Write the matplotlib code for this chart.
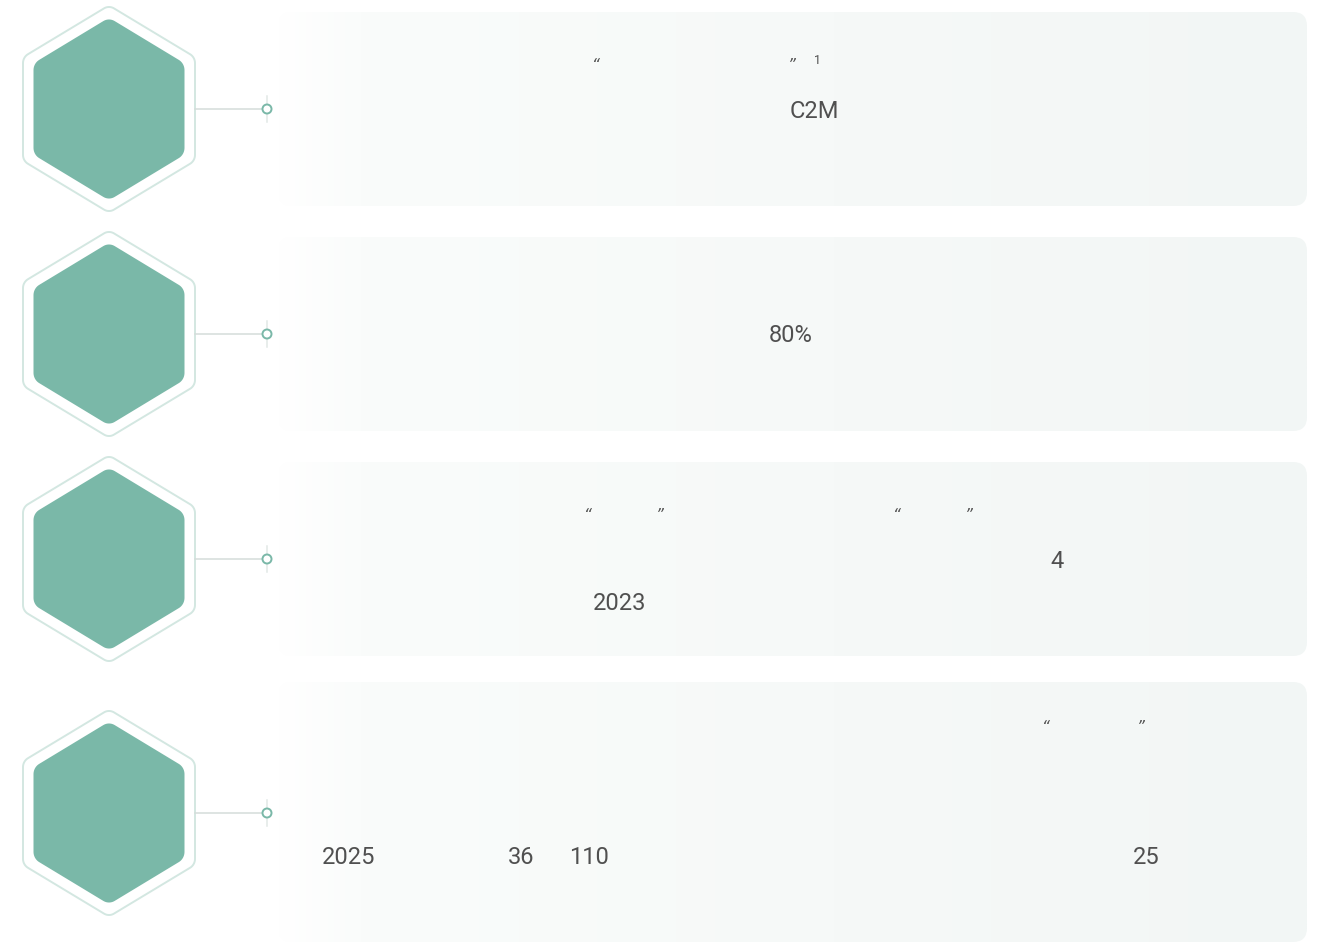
import numpy as np
import matplotlib
matplotlib.use("Agg")
import matplotlib.pyplot as plt
from matplotlib.patches import Polygon, FancyBboxPatch, Circle

plt.rcParams['font.family'] = ['Noto Sans CJK SC', 'DejaVu Sans']

W, H = 1329, 943

# row layout (pixel centres of each hexagon / card)
ROW_CENTERS = [109, 334, 559, 813]
CARD_TOPS = [12, 237, 462, 682]
CARD_BOTTOMS = [206, 431, 656, 942]

# visible text fragments per row: (text, x, y, size)
ROW_TEXTS = [
    [("\u201c", 592, 66, 11), ("\u201d", 788, 66, 11), ("1", 814, 60, 9), ("C2M", 790, 111, 17)],
    [("80%", 769, 336, 17)],
    [("\u201c", 584, 516, 11), ("\u201d", 656, 516, 11), ("\u201c", 893, 516, 11),
     ("\u201d", 965, 516, 11), ("4", 1050, 561, 17), ("2023", 593, 603, 17)],
    [("\u201c", 1042, 727, 11), ("\u201d", 1137, 727, 11), ("2025", 322, 858, 17),
     ("36", 508, 858, 17), ("110", 569, 858, 17), ("25", 1133, 858, 17)],
]

TEAL = "#7ab8a8"
OUTLINE = "#d3e7e1"
TEXT = "#505050"


def rounded_hex(cx, cy, hw, hh, r=0.13, n=12):
    """Pointy-top hexagon with rounded corners, scaled to half-width hw / half-height hh."""
    pts = []
    d = 1 - r / np.sin(np.radians(60))
    for a in [90, 150, 210, 270, 330, 30]:
        ac = np.radians(a)
        ox, oy = d * np.cos(ac), d * np.sin(ac)
        for t in np.linspace(ac - np.pi / 6, ac + np.pi / 6, n):
            pts.append((ox + r * np.cos(t), oy + r * np.sin(t)))
    pts = np.array(pts)
    pts[:, 0] = pts[:, 0] / np.abs(pts[:, 0]).max() * hw + cx
    pts[:, 1] = pts[:, 1] / np.abs(pts[:, 1]).max() * hh + cy
    return pts


fig = plt.figure(figsize=(W / 100, H / 100), dpi=100)
ax = fig.add_axes([0, 0, 1, 1])
ax.set_xlim(0, W)
ax.set_ylim(H, 0)
ax.axis("off")

# horizontal gradient for the cards
xs = np.linspace(0, 1, 600)
c0 = np.array([1.0, 1.0, 1.0])
c1 = np.array([0xfa, 0xfc, 0xfb]) / 255
c2 = np.array([0xf2, 0xf6, 0xf5]) / 255
k = 0.08
grad = np.where(xs[:, None] < k,
                c0 + (c1 - c0) * (xs[:, None] / k),
                c1 + (c2 - c1) * ((xs[:, None] - k) / (1 - k)))
grad = grad[None, :, :]

for i, cy in enumerate(ROW_CENTERS):
    # card
    top, bot = CARD_TOPS[i], CARD_BOTTOMS[i]
    card = FancyBboxPatch((278, top), 1307 - 278, bot - top,
                          boxstyle="round,pad=0,rounding_size=14",
                          fc="none", ec="none")
    ax.add_patch(card)
    im = ax.imshow(grad, extent=(278, 1307, bot, top), aspect="auto",
                   interpolation="bilinear", zorder=1)
    im.set_clip_path(card)

    # hexagons
    ax.add_patch(Polygon(rounded_hex(109, cy, 86, 102, r=0.1), closed=True,
                         fc="white", ec=OUTLINE, lw=1.4, zorder=2))
    ax.add_patch(Polygon(rounded_hex(109, cy, 75.5, 89.5, r=0.13), closed=True,
                         fc=TEAL, ec="none", zorder=3))

    # connector
    ax.plot([195, 262], [cy, cy], color="#d5dcda", lw=1.1, zorder=2)
    ax.plot([267, 267], [cy - 13, cy + 13], color="#e2e8e6", lw=1.1, zorder=2)
    ax.add_patch(Circle((267, cy), 4.5, fc="white", ec=TEAL, lw=1.4, zorder=4))

    for txt, x, y, size in ROW_TEXTS[i]:
        if txt in "\u201c\u201d":
            fam = ["DejaVu Sans"]
            style = "italic"
        else:
            fam = ["Roboto", "DejaVu Sans"]
            style = "normal"
        ax.text(x, y, txt, fontsize=size, color=TEXT, ha="left", va="center",
                family=fam, fontstyle=style, zorder=5)

fig.savefig("out.png", dpi=100)
